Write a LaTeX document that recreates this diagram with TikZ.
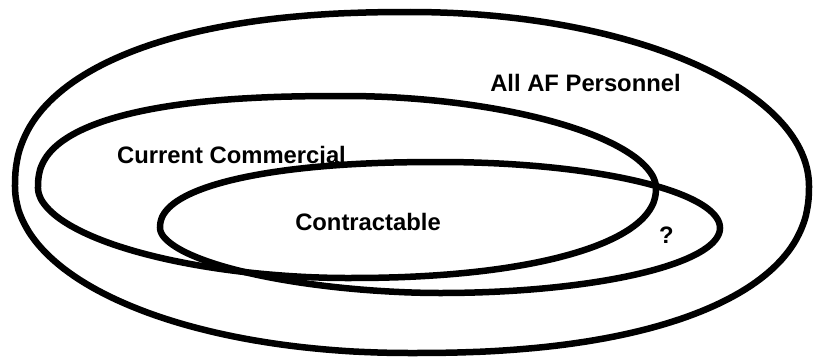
\documentclass[tikz,border=0pt]{standalone}
\usepackage{fontspec}
\setmainfont{Liberation Sans}
\begin{document}
\begin{tikzpicture}[x=1pt,y=-1pt,
  ring/.style={line width=6.5pt,draw=black,line join=round},
  lbl/.style={font=\fontsize{23.8}{28}\selectfont\bfseries,anchor=base,inner sep=0pt}]
\useasboundingbox (0,0) rectangle (813,360);
% outer: All AF Personnel  (cx=411, cy=186)
\draw[ring]
 plot[domain=0.05:89.95,samples=60] ({411-396*pow(cos(\x),2/2.3)},{186-174*pow(sin(\x),2/2.3)})
 -- plot[domain=89.95:0.05,samples=60] ({411+398*pow(cos(\x),2/2.0)},{186-174*pow(sin(\x),2/2.0)})
 -- plot[domain=0.05:89.95,samples=60] ({411+398*pow(cos(\x),2/2.3)},{186+167*pow(sin(\x),2/2.3)})
 -- plot[domain=89.95:0.05,samples=60] ({411-396*pow(cos(\x),2/2.05)},{186+167*pow(sin(\x),2/2.05)})
 -- cycle;
% middle: Current Commercial (cx=347, cy=188)
\draw[ring]
 plot[domain=0.05:89.95,samples=60] ({347-309*pow(cos(\x),2/2.5)},{188-92*pow(sin(\x),2/2.5)})
 -- plot[domain=89.95:0.05,samples=60] ({347+309*pow(cos(\x),2/1.9)},{188-92*pow(sin(\x),2/1.9)})
 -- plot[domain=0.05:89.95,samples=60] ({347+309*pow(cos(\x),2/2.2)},{188+90*pow(sin(\x),2/2.2)})
 -- plot[domain=89.95:0.05,samples=60] ({347-309*pow(cos(\x),2/1.9)},{188+90*pow(sin(\x),2/1.9)})
 -- cycle;
% inner: Contractable (cx=440, cy=228)
\draw[ring]
 plot[domain=0.05:89.95,samples=60] ({440-280*pow(cos(\x),2/2.25)},{228-66*pow(sin(\x),2/2.25)})
 -- plot[domain=89.95:0.05,samples=60] ({440+280*pow(cos(\x),2/2.0)},{228-66*pow(sin(\x),2/2.0)})
 -- plot[domain=0.05:89.95,samples=60] ({440+280*pow(cos(\x),2/2.0)},{228+65*pow(sin(\x),2/2.0)})
 -- plot[domain=89.95:0.05,samples=60] ({440-280*pow(cos(\x),2/1.85)},{228+65*pow(sin(\x),2/1.85)})
 -- cycle;
\node[lbl] (all) at (585.5,91) {All AF Personnel};
\node[lbl] (cur) at (231.5,163) {Current Commercial};
\node[lbl] (con) at (368,230) {Contractable};
\node[lbl] (q) at (666.5,243) {?};
\end{tikzpicture}
\end{document}
